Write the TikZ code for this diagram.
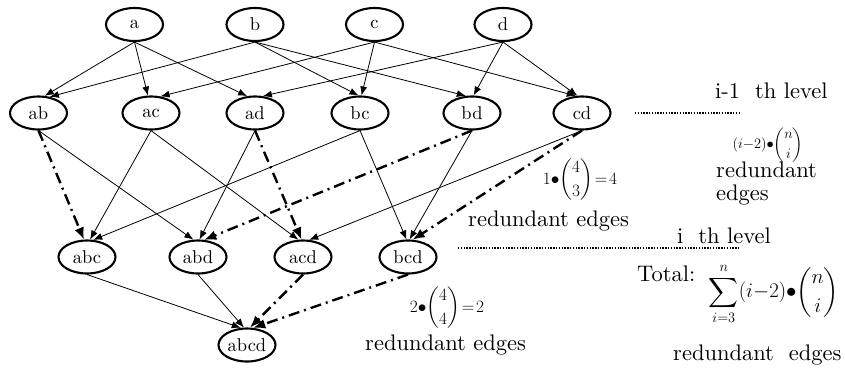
\documentclass[tikz,border=0pt]{standalone}
\usepackage{fontspec}
\usepackage{amsmath}
% 10pt design size of Latin Modern, scaled up: wider and sturdier than the 17pt cut
\setmainfont{lmroman10-regular.otf}[BoldFont=lmroman10-bold.otf]
\usetikzlibrary{shapes.geometric,arrows.meta}

\begin{document}
\begin{tikzpicture}[x=1pt,y=-1pt,
  setnode/.style={ellipse,draw,line width=2.1pt,minimum width=57pt,minimum height=33pt,
    inner sep=0pt,font=\fontsize{18.5}{19}\selectfont},
  plain/.style={line width=0.8pt,-{Latex[length=9pt,width=7pt]}},
  redundant/.style={line width=2.4pt,dash pattern=on 11pt off 5pt on 2pt off 5pt,
    -{Latex[length=12pt,width=10pt]}},
  lbl/.style={font=\fontsize{22.5}{26}\selectfont,inner sep=0pt},
  formula/.style={font=\fontsize{16.5}{18}\selectfont,inner sep=0pt},
  levelline/.style={line width=1.7pt,dash pattern=on 1.4pt off 1.4pt}
]
\useasboundingbox (0,0) rectangle (845,370);

% level 1
\node[setnode] (a) at (134.5,24.5) {a};
\node[setnode] (b) at (255,24.5) {b};
\node[setnode] (c) at (374.5,24.5) {c};
\node[setnode] (d) at (503,24.5) {d};
% level 2
\node[setnode] (ab) at (38.5,113) {ab};
\node[setnode] (ac) at (151,113) {ac};
\node[setnode] (ad) at (255,113) {ad};
\node[setnode] (bc) at (360,113) {bc};
\node[setnode] (bd) at (472,113) {bd};
\node[setnode] (cd) at (582,113) {cd};
% level 3
\node[setnode] (abc) at (87,257) {abc};
\node[setnode] (abd) at (198,257) {abd};
\node[setnode] (acd) at (303,257) {acd};
\node[setnode] (bcd) at (408,257) {bcd};
% level 4
\node[setnode] (abcd) at (247,345) {abcd};

% edges level 1 -> level 2
\draw[plain] (a.south) -- (ab.70);
\draw[plain] (a.south) -- (ac.100);
\draw[plain] (a.south) -- (ad.115);
\draw[plain] (b.south) -- (ab.55);
\draw[plain] (b.south) -- (bc.95);
\draw[plain] (b.south) -- (bd.110);
\draw[plain] (c.south) -- (ac.60);
\draw[plain] (c.south) -- (bc.85);
\draw[plain] (c.south) -- (cd.110);
\draw[plain] (d.south) -- (ad.65);
\draw[plain] (d.south) -- (bd.85);
\draw[plain] (d.south) -- (cd.105);

% edges level 2 -> level 3
\draw[redundant] (ab.south) -- (abc.100);
\draw[plain] (ab.south) -- (abd.105);
\draw[plain] (ac.south) -- (abc.80);
\draw[plain] (ac.south) -- (acd.105);
\draw[plain] (ad.south) -- (abd.85);
\draw[redundant] (ad.south) -- (acd.95);
\draw[plain] (bc.south) -- (abc.70);
\draw[plain] (bc.south) -- (bcd.95);
\draw[redundant] (bd.south) -- (abd.70);
\draw[plain] (bd.south) -- (bcd.85);
\draw[plain] (cd.south) -- (acd.70);
\draw[redundant] (cd.south) -- (bcd.75);

% edges level 3 -> level 4
\draw[plain] (abc.south) -- (abcd.110);
\draw[plain] (abd.south) -- (abcd.100);
\draw[redundant] (acd.south) -- (abcd.80);
\draw[redundant] (bcd.south) -- (abcd.70);

% level markers
\node[lbl,anchor=base west] (lvlA) at (715,98) {i-1\ \ th level};
\coordinate (lineAs) at (635,113);
\coordinate (lineAe) at (740,113);
\draw[levelline] (lineAs) -- (lineAe);

\node[font=\fontsize{14}{16}\selectfont,inner sep=0pt] (fA) at (768,145)
  {$(i{-}2){\bullet}\displaystyle\binom{n}{i}$};
\node[lbl,anchor=base west] (rA1) at (716,177) {redundant};
\node[lbl,anchor=base west] (rA2) at (716,200) {edges};

\node[formula] (fB) at (580,180) {$1{\bullet}\displaystyle\binom{4}{3}\mskip2mu{=}\mskip2mu 4$};
\node[lbl,anchor=base west] (rB) at (468,226) {redundant edges};

\node[lbl,anchor=base west] (lvlB) at (677,243) {i\ \ th level};
\coordinate (lineBs) at (458,248);
\coordinate (lineBe) at (740,248);
\draw[levelline] (lineBs) -- (lineBe);

\node[lbl,anchor=base west] (tot) at (637,281) {Total:};
\node[font=\fontsize{22}{26}\selectfont,inner sep=0pt] (fT) at (774,294)
  {$\displaystyle\sum_{i=3}^{n}(i{-}2){\bullet}\binom{n}{i}$};
\node[lbl,anchor=base west] (rT) at (673,360) {redundant\ \ edges};

\node[formula] (fC) at (447,308) {$2{\bullet}\displaystyle\binom{4}{4}\mskip2mu{=}\mskip2mu 2$};
\node[lbl,anchor=base west] (rC) at (365,350) {redundant edges};
\end{tikzpicture}
\end{document}
